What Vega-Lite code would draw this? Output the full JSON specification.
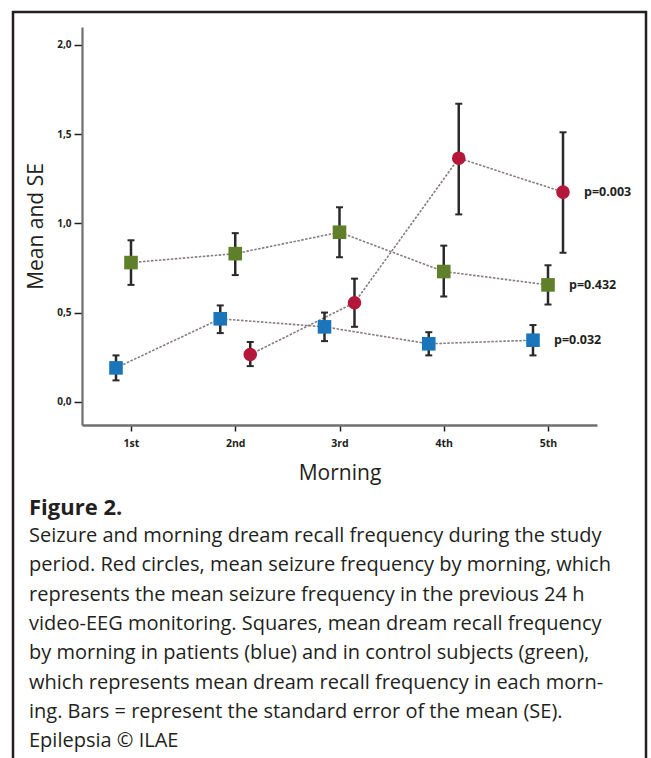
{
  "$schema": "https://vega.github.io/schema/vega-lite/v6.json",
  "width": 633,
  "height": 760,
  "autosize": {"type": "none"},
  "padding": {"left": 13, "top": 12, "right": 5, "bottom": 0},
  "background": "white",
  "config": {
    "view": {"stroke": "#231f20", "strokeWidth": 2.5},
    "axis": {"grid": false}
  },
  "title": {
    "text": "Figure 2.",
    "subtitle": [
      "Seizure and morning dream recall frequency during the study",
      "period. Red circles, mean seizure frequency by morning, which",
      "represents the mean seizure frequency in the previous 24 h",
      "video-EEG monitoring. Squares, mean dream recall frequency",
      "by morning in patients (blue) and in control subjects (green),",
      "which represents mean dream recall frequency in each morn-",
      "ing. Bars = represent the standard error of the mean (SE).",
      "Epilepsia © ILAE"
    ],
    "orient": "bottom",
    "frame": "group",
    "anchor": "start",
    "offset": -274,
    "dx": 16,
    "baseline": "top",
    "font": "Open Sans",
    "fontSize": 22,
    "fontWeight": "bold",
    "color": "#231f20",
    "subtitleFont": "Open Sans",
    "subtitleFontSize": 20,
    "subtitleColor": "#231f20",
    "subtitleLineHeight": 29.3,
    "subtitlePadding": 6
  },
  "data": {
    "values": [
      {"series": "blue", "morning": "1st", "mean": 0.19, "lo": 0.12, "hi": 0.26},
      {"series": "blue", "morning": "2nd", "mean": 0.465, "lo": 0.385, "hi": 0.54},
      {"series": "blue", "morning": "3rd", "mean": 0.42, "lo": 0.34, "hi": 0.5},
      {"series": "blue", "morning": "4th", "mean": 0.325, "lo": 0.26, "hi": 0.39},
      {"series": "blue", "morning": "5th", "mean": 0.345, "lo": 0.26, "hi": 0.43, "p": "p=0.032"},
      {"series": "green", "morning": "1st", "mean": 0.78, "lo": 0.655, "hi": 0.905},
      {"series": "green", "morning": "2nd", "mean": 0.83, "lo": 0.71, "hi": 0.945},
      {"series": "green", "morning": "3rd", "mean": 0.95, "lo": 0.81, "hi": 1.09},
      {"series": "green", "morning": "4th", "mean": 0.73, "lo": 0.59, "hi": 0.875},
      {"series": "green", "morning": "5th", "mean": 0.655, "lo": 0.545, "hi": 0.765, "p": "p=0.432"},
      {"series": "red", "morning": "2nd", "mean": 0.265, "lo": 0.2, "hi": 0.335},
      {"series": "red", "morning": "3rd", "mean": 0.555, "lo": 0.42, "hi": 0.69},
      {"series": "red", "morning": "4th", "mean": 1.365, "lo": 1.05, "hi": 1.67},
      {"series": "red", "morning": "5th", "mean": 1.175, "lo": 0.835, "hi": 1.51, "p": "p=0.003"}
    ]
  },
  "encoding": {
    "x": {
      "field": "morning",
      "type": "ordinal",
      "scale": {"type": "point", "domain": ["1st", "2nd", "3rd", "4th", "5th"], "range": [69, 584], "padding": 0.47},
      "axis": {
        "orient": "bottom",
        "offset": -347,
        "labelAngle": 0,
        "domainColor": "#6f6f6f",
        "domainWidth": 2.5,
        "tickColor": "#231f20",
        "tickWidth": 1.5,
        "tickSize": 6,
        "labelFont": "Open Sans",
        "labelFontWeight": "bold",
        "labelFontSize": 10.5,
        "labelColor": "#231f20",
        "labelPadding": 7,
        "title": "Morning",
        "titleFont": "Open Sans",
        "titleFontSize": 21,
        "titleFontWeight": "normal",
        "titleColor": "#231f20",
        "titleY": 54,
        "titleBaseline": "alphabetic"
      }
    },
    "xOffset": {
      "field": "series",
      "type": "nominal",
      "scale": {"type": "point", "domain": ["blue", "green", "red"], "range": [-15, 15], "padding": 0}
    }
  },
  "layer": [
    {
      "mark": {"type": "line", "stroke": "#857c7c", "strokeWidth": 1.6, "strokeDash": [2.5, 1.5]},
      "encoding": {
        "detail": {"field": "series", "type": "nominal"},
        "y": {
          "field": "mean",
          "type": "quantitative",
          "scale": {"domain": [-0.13, 2.1], "range": [413, 15], "nice": false, "zero": false},
          "axis": {
            "orient": "left",
            "offset": -69,
            "values": [0, 0.5, 1, 1.5, 2],
            "labelExpr": "replace(format(datum.value, '.1f'), '.', ',')",
            "domainColor": "#6f6f6f",
            "domainWidth": 2.2,
            "tickColor": "#231f20",
            "tickWidth": 1.5,
            "tickSize": 8,
            "labelPadding": 3,
            "labelFont": "Open Sans",
            "labelFontWeight": "bold",
            "labelFontSize": 10,
            "labelColor": "#231f20",
            "title": "Mean and SE",
            "titleFont": "Open Sans",
            "titleFontSize": 21,
            "titleFontWeight": "normal",
            "titleColor": "#231f20",
            "titleX": -40,
            "titleBaseline": "alphabetic"
          }
        }
      }
    },
    {
      "mark": {"type": "rule", "stroke": "#2a2a2a", "strokeWidth": 2.5},
      "encoding": {
        "y": {"field": "lo", "type": "quantitative"},
        "y2": {"field": "hi"}
      }
    },
    {
      "mark": {"type": "tick", "orient": "horizontal", "color": "#2a2a2a", "size": 7, "thickness": 2, "opacity": 1},
      "encoding": {"y": {"field": "hi", "type": "quantitative"}}
    },
    {
      "mark": {"type": "tick", "orient": "horizontal", "color": "#2a2a2a", "size": 7, "thickness": 2, "opacity": 1},
      "encoding": {"y": {"field": "lo", "type": "quantitative"}}
    },
    {
      "mark": {"type": "point", "filled": true, "opacity": 1, "size": 185},
      "encoding": {
        "y": {"field": "mean", "type": "quantitative"},
        "color": {
          "field": "series",
          "type": "nominal",
          "scale": {"domain": ["blue", "green", "red"], "range": ["#1b75bb", "#5f7f2a", "#b5173b"]},
          "legend": null
        },
        "shape": {
          "field": "series",
          "type": "nominal",
          "scale": {"domain": ["blue", "green", "red"], "range": ["square", "square", "circle"]},
          "legend": null
        }
      }
    },
    {
      "transform": [{"filter": "isValid(datum.p)"}],
      "mark": {"type": "text", "align": "left", "baseline": "middle", "dx": 21, "font": "Open Sans", "fontWeight": "bold", "fontSize": 12.5, "color": "#231f20"},
      "encoding": {
        "y": {"field": "mean", "type": "quantitative"},
        "text": {"field": "p", "type": "nominal"}
      }
    }
  ]
}
